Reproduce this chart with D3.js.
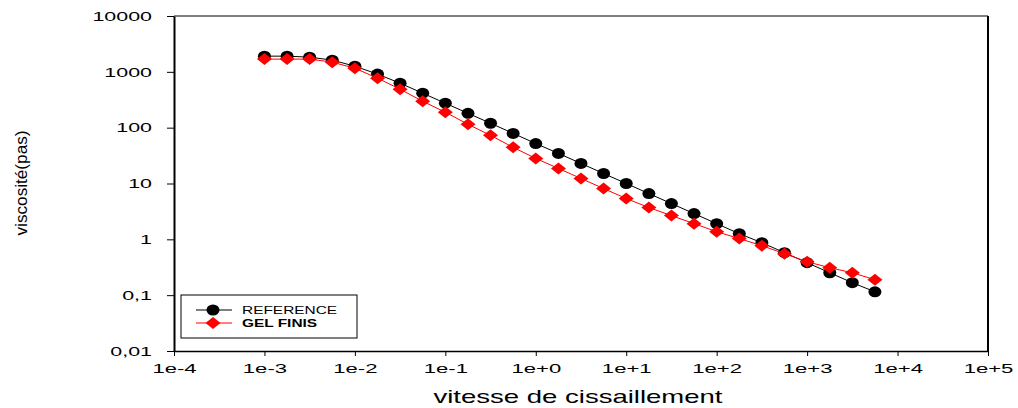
<!DOCTYPE html>
<html>
<head>
<meta charset="utf-8">
<script src="https://cdn.jsdelivr.net/npm/d3@7"></script>
<style>
  body{margin:0;background:#fff;}
  svg{display:block;font-family:"Liberation Sans",Arial,sans-serif;}
</style>
</head>
<body>
<div id="graphe"></div>
<script>
// donnees
var vitesse = [0.001, 0.00178, 0.00316, 0.00562, 0.01, 0.0178, 0.0316, 0.0562,
  0.1, 0.178, 0.316, 0.562, 1, 1.78, 3.16, 5.62, 10, 17.8, 31.6, 56.2,
  100, 178, 316, 562, 1000, 1780, 3160, 5620];

var reference = [1910, 1910, 1830, 1620, 1260, 910, 626, 414, 274, 181, 120, 79,
  52, 34.6, 22.9, 15.1, 10, 6.6, 4.37, 2.89, 1.91, 1.26, 0.87, 0.577,
  0.381, 0.252, 0.167, 0.115];

var gelFinis = [1690, 1690, 1690, 1490, 1160, 770, 488, 297, 189, 115, 72.8, 44.4,
  28.1, 18.6, 12.3, 8.13, 5.38, 3.71, 2.66, 1.91, 1.37, 1.03, 0.77, 0.553,
  0.397, 0.31, 0.252, 0.189];

var xTicks = [1e-4, 1e-3, 1e-2, 1e-1, 1, 1e1, 1e2, 1e3, 1e4, 1e5];
var xLabels = ["1e-4", "1e-3", "1e-2", "1e-1", "1e+0", "1e+1", "1e+2", "1e+3", "1e+4", "1e+5"];
var yTicks = [0.01, 0.1, 1, 10, 100, 1000, 10000];
var yLabels = ["0,01", "0,1", "1", "10", "100", "1000", "10000"];

var series = [
  {nom: "REFERENCE", valeurs: reference, couleur: "#000", forme: "rond", gras: false},
  {nom: "GEL FINIS", valeurs: gelFinis, couleur: "#ff0000", forme: "losange", gras: true}
];

var w = 1018, h = 408;
var x0 = 174, x1 = 988, yTop = 16, yBas = 351;

var svg = d3.select("#graphe").append("svg")
  .attr("width", w)
  .attr("height", h);

var x = d3.scaleLog().domain([1e-4, 1e5]).range([x0, x1]);
var y = d3.scaleLog().domain([0.01, 10000]).range([yBas, yTop]);

// cadre haut et droite
svg.append("line")
  .attr("x1", x0).attr("x2", x1).attr("y1", yTop).attr("y2", yTop)
  .attr("stroke", "#000").attr("stroke-width", 1);
svg.append("line")
  .attr("x1", x1).attr("x2", x1).attr("y1", yTop).attr("y2", yBas)
  .attr("stroke", "#000").attr("stroke-width", 2);

// axe x
var axeX = svg.append("g")
  .attr("transform", "translate(0," + yBas + ")")
  .call(d3.axisBottom(x)
    .tickValues(xTicks)
    .tickFormat(function(d, i){ return xLabels[i]; })
    .tickSize(5)
    .tickPadding(8)
    .tickSizeOuter(0));
axeX.select(".domain").attr("stroke-width", 1.5);
axeX.selectAll("text")
  .attr("font-size", 13)
  .attr("font-family", "Liberation Sans, Arial, sans-serif")
  .attr("fill", "#000")
  .attr("transform", "scale(1.7,1)");

// axe y
var axeY = svg.append("g")
  .attr("transform", "translate(" + x0 + ",0)")
  .call(d3.axisLeft(y)
    .tickValues(yTicks)
    .tickFormat(function(d, i){ return yLabels[i]; })
    .tickSize(7)
    .tickSizeOuter(0));
axeY.select(".domain").attr("stroke-width", 2);
axeY.selectAll("text")
  .attr("font-size", 13)
  .attr("font-family", "Liberation Sans, Arial, sans-serif")
  .attr("fill", "#000")
  .attr("x", -22 / 1.65)
  .attr("transform", "scale(1.65,1)");

// titres des axes
svg.append("text")
  .attr("x", 578).attr("y", 403)
  .attr("text-anchor", "middle")
  .attr("font-size", 19)
  .attr("textLength", 289)
  .attr("lengthAdjust", "spacingAndGlyphs")
  .text("vitesse de cissaillement");

svg.append("text")
  .attr("transform", "translate(27,183) rotate(-90)")
  .attr("text-anchor", "middle")
  .attr("font-size", 16)
  .attr("textLength", 105)
  .attr("lengthAdjust", "spacingAndGlyphs")
  .text("viscosité(pas)");

// marqueurs
function marqueur(g, forme, couleur){
  if(forme == "rond"){
    g.append("ellipse").attr("rx", 6.5).attr("ry", 5.5).attr("fill", couleur);
  } else {
    g.append("path").attr("d", "M-7.5,0L0,-6L7.5,0L0,6Z").attr("fill", couleur);
  }
}

var ligne = d3.line()
  .x(function(d){ return x(d[0]); })
  .y(function(d){ return y(d[1]); });

series.forEach(function(s){
  var pts = vitesse.map(function(v, i){ return [v, s.valeurs[i]]; });
  svg.append("path")
    .datum(pts)
    .attr("d", ligne)
    .attr("fill", "none")
    .attr("stroke", s.couleur)
    .attr("stroke-width", 1);
  svg.append("g").selectAll("g")
    .data(pts)
    .enter().append("g")
    .attr("transform", function(d){ return "translate(" + x(d[0]) + "," + y(d[1]) + ")"; })
    .each(function(){ marqueur(d3.select(this), s.forme, s.couleur); });
});

// legende
var leg = svg.append("g");
leg.append("rect")
  .attr("x", 181).attr("y", 295)
  .attr("width", 176).attr("height", 43)
  .attr("fill", "#fff").attr("stroke", "#000").attr("stroke-width", 1);

series.forEach(function(s, i){
  var ly = 310 + i * 13;
  leg.append("line")
    .attr("x1", 196).attr("x2", 232).attr("y1", ly).attr("y2", ly)
    .attr("stroke", s.couleur).attr("stroke-width", 1);
  var m = leg.append("g").attr("transform", "translate(213," + ly + ")");
  marqueur(m, s.forme, s.couleur);
  leg.append("text")
    .attr("transform", "translate(242," + (ly + 4) + ") scale(1.47,1)")
    .attr("font-size", 10.5)
    .attr("font-weight", s.gras ? "bold" : "normal")
    .text(s.nom);
});
</script>
</body>
</html>
